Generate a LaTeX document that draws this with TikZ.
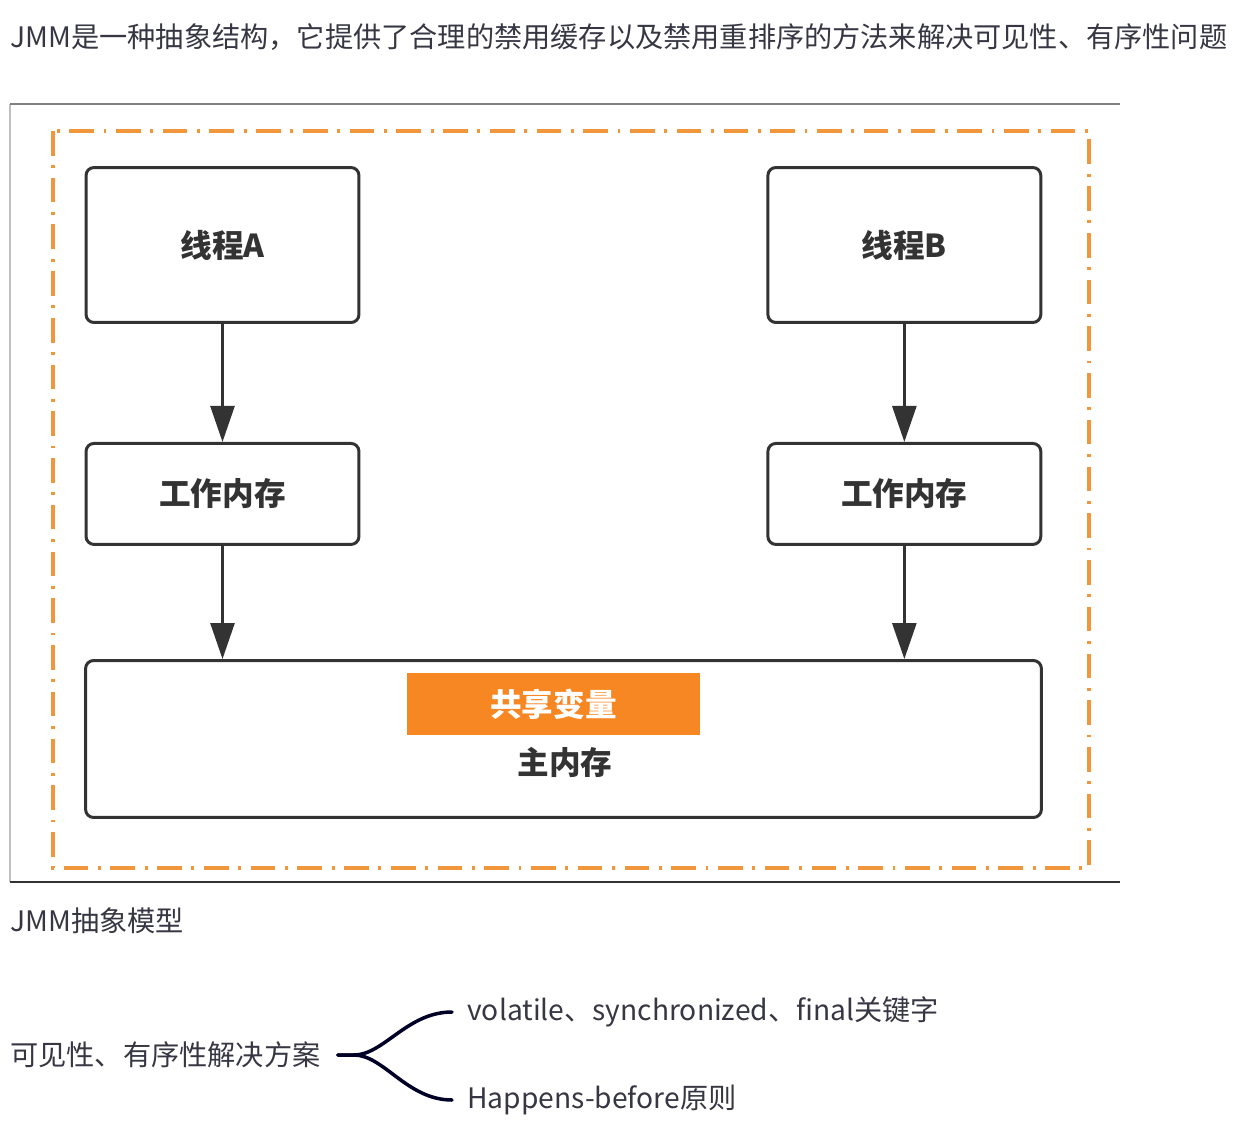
\documentclass[tikz,border=0pt]{standalone}
\usepackage{fontspec}
\setmainfont{Noto Sans CJK SC}
\usetikzlibrary{arrows.meta,positioning}

\definecolor{jmmorange}{RGB}{242,150,60}
\definecolor{varorange}{RGB}{247,135,35}
\definecolor{boxline}{RGB}{51,51,51}
\definecolor{bodytext}{RGB}{55,55,68}

\begin{document}
\begin{tikzpicture}[x=0.02cm, y=-0.02cm,
                    every node/.style={inner sep=0pt, text=bodytext},
                    body/.style={anchor=west, font=\fontsize{16.05}{18}\selectfont},
                    block/.style={draw=boxline, line width=1.7pt, rounded corners=0.16cm,
                                  fill=white, text=boxline,
                                  font=\bfseries\fontsize{18}{20}\selectfont},
                    thread/.style={block, minimum width=5.46cm, minimum height=3.1cm},
                    work/.style={block, minimum width=5.46cm, minimum height=2.02cm},
                    flow/.style={draw=boxline, line width=1.5pt,
                                 -{Triangle[length=0.72cm,width=0.48cm]}},
                    fork/.style={draw=black!85!blue, line width=2pt, line cap=round},
                    node distance=2.36cm and 8.12cm]
    \useasboundingbox (0,0) rectangle (1242,1136);
    % heading and caption
    \node[body] (intro) at (10,37) {JMM是一种抽象结构，它提供了合理的禁用缓存以及禁用重排序的方法来解决可见性、有序性问题};
    \node[body] (caption) at (10,921) {JMM抽象模型};

    % picture frame
    \draw[black!25, line width=0.8pt] (10,882) -- (10,104);
    \draw[black!50, line width=0.9pt] (10,104) -- (1120,104);
    \draw[black!80, line width=1.2pt] (10,882) -- (1120,882);
    \draw[jmmorange, line width=2.3pt,
          dash pattern=on 14pt off 5.5pt on 1.6pt off 5.5pt] (53,131) rectangle (1089,868);

    % threads and working memory
    \node[thread] (threadA) at (222.5,245) {线程A};
    \node[thread, right=of threadA] (threadB) {线程B};
    \node[work, below=of threadA] (workA) {工作内存};
    \node[work, below=of threadB] (workB) {工作内存};

    % main memory
    \node[block, minimum width=19.12cm, minimum height=3.14cm] (mainmem) at (563.5,739) {};
    \node[fill=varorange, text=white, minimum width=5.86cm, minimum height=1.24cm,
          font=\bfseries\fontsize{18}{20}\selectfont] (sharedvar) at (553.5,704) {共享变量};
    \node[text=boxline, font=\bfseries\fontsize{18}{20}\selectfont] (mainlabel) at (565,762) {主内存};

    \draw[flow] (threadA) -- (workA);
    \draw[flow] (threadB) -- (workB);
    \draw[flow] (workA.south) -- (workA.south |- mainmem.north);
    \draw[flow] (workB.south) -- (workB.south |- mainmem.north);

    % solutions
    \node[body] (plan) at (10,1055) {可见性、有序性解决方案};
    \node[body] (keywords) at (467,1012) {volatile、synchronized、final关键字};
    \node[body] (hb) at (467,1100) {Happens-before原则};
    \coordinate[right=0.34cm of plan.east] (tip);
    \coordinate[left=0.3cm of keywords.west] (kwend);
    \coordinate[left=0.3cm of hb.west] (hbend);
    \draw[fork] (tip) -- ++(16,0) .. controls +(30,0) and +(-45,0) .. (kwend);
    \draw[fork] (tip) -- ++(16,0) .. controls +(30,0) and +(-45,0) .. (hbend);
\end{tikzpicture}
\end{document}
